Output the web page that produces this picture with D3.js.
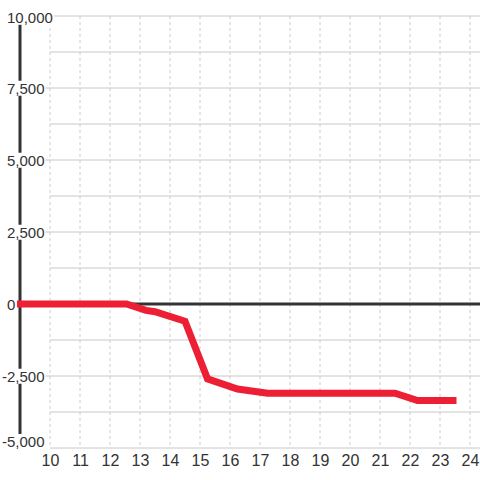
<!DOCTYPE html>
<html lang="en">
<head>
<meta charset="UTF-8">
<title>Chart</title>
<script src="https://d3js.org/d3.v7.min.js"></script>
<style>
  body { margin: 0; background: #fff; }
  text { font-family: "Liberation Sans", Arial, sans-serif; fill: #333; }
</style>
</head>
<body>
<div id="chart"></div>
<script>
// data
const xValues = [8.9, 12.55, 13.2, 13.5, 14.5, 15.25, 16.25, 17.25, 21.5, 22.25, 23.55];
const yValues = [0, 0, -220, -270, -600, -2600, -2950, -3100, -3100, -3350, -3350];
const xTicks = [10, 11, 12, 13, 14, 15, 16, 17, 18, 19, 20, 21, 22, 23, 24];
const yGrid = [-5000, -3750, -2500, -1250, 1250, 2500, 3750, 5000, 6250, 7500, 8750, 10000];
const yLabels = [-5000, -2500, 0, 2500, 5000, 7500, 10000];

const W = 480, H = 480;
const x = d3.scaleLinear().domain([9, 24.333]).range([20, 480]);
const y = d3.scaleLinear().domain([-5000, 10000]).range([448, 16]);

const svg = d3.select("#chart").append("svg")
    .attr("width", W).attr("height", H);

// vertical dashed grid
svg.append("g").selectAll("line").data(xTicks).join("line")
    .attr("x1", d => x(d)).attr("x2", d => x(d))
    .attr("y1", y(10000)).attr("y2", y(-5000))
    .attr("stroke", "#ccc").attr("stroke-dasharray", "3,3");

// horizontal grid (labelled ones run under the labels)
const labelled = [-2500, 2500, 5000, 7500];
svg.append("g").selectAll("line").data(yGrid).join("line")
    .attr("x1", d => labelled.includes(d) ? x(9) : x(10))
    .attr("x2", W)
    .attr("y1", d => y(d)).attr("y2", d => y(d))
    .attr("stroke", "#c8c8c8");

// y axis line and zero line
svg.append("line")
    .attr("x1", x(9)).attr("x2", x(9))
    .attr("y1", 24).attr("y2", y(-5000))
    .attr("stroke", "#333").attr("stroke-width", 3);
svg.append("line")
    .attr("x1", x(9)).attr("x2", W)
    .attr("y1", y(0)).attr("y2", y(0))
    .attr("stroke", "#333").attr("stroke-width", 3);

// y labels with white backing
const fmt = d => d3.format(",")(d).replace("\u2212", "-");
const yAxis = svg.append("g")
    .call(d3.axisLeft(y).tickValues(yLabels).tickSize(0).tickFormat(fmt));
yAxis.select(".domain").remove();
yAxis.attr("font-size", null).attr("font-family", null);
yAxis.selectAll("text")
    .attr("text-anchor", "start")
    .attr("x", d => d < 0 ? 2 : 7)
    .attr("dy", d => d === -5000 ? "-0.1em" : d === 10000 ? "0.42em" : "0.35em")
    .style("font-size", "15px").attr("fill", "#333");
yAxis.selectAll(".tick").each(function() {
    const t = d3.select(this).select("text");
    const b = t.node().getBBox();
    d3.select(this).insert("rect", "text")
        .attr("x", b.x - 1).attr("y", b.y + 1)
        .attr("width", b.width + 2).attr("height", b.height - 2)
        .attr("fill", "#fff");
});

// x labels
const xAxis = svg.append("g")
    .attr("transform", "translate(0," + 448 + ")")
    .call(d3.axisBottom(x).tickValues(xTicks).tickSize(0).tickPadding(7));
xAxis.select(".domain").remove();
xAxis.attr("font-size", null).attr("font-family", null);
xAxis.selectAll("text").style("font-size", "16px").attr("fill", "#333");

// red line
const line = d3.line()
    .x((d, i) => x(xValues[i]))
    .y(d => y(d));
svg.append("path")
    .datum(yValues)
    .attr("d", line)
    .attr("fill", "none")
    .attr("stroke", "#ec1f35")
    .attr("stroke-width", 7)
    .attr("stroke-linejoin", "miter");
</script>
</body>
</html>
